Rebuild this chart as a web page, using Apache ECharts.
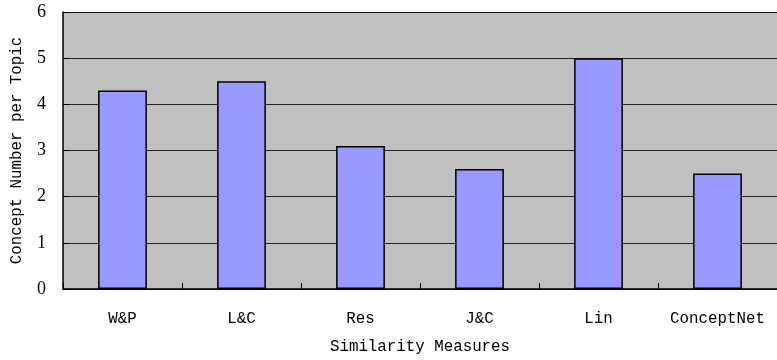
<!DOCTYPE html>
<html><head><meta charset="utf-8">
<script src="https://cdn.jsdelivr.net/npm/echarts@6/dist/echarts.min.js"></script>
<style>html,body{margin:0;padding:0;background:#fff}#c{width:777px;height:360px}</style>
</head><body><div id="c"></div>
<script>
const categories = ["W&P", "L&C", "Res", "J&C", "Lin", "ConceptNet"];
const values = [4.3, 4.5, 3.1, 2.6, 5.0, 2.5];
const yTicks = [0, 1, 2, 3, 4, 5, 6];
const xName = "Similarity Measures";
const yName = "Concept Number per Topic";

const chart = echarts.init(document.getElementById('c'), null, {renderer: 'canvas'});
const mono = "'Liberation Mono', monospace";
const serif = "'Liberation Serif', serif";
chart.setOption({
  animation: false,
  grid: {left: 63, right: 0, top: 12, bottom: 66, show: true, backgroundColor: '#C0C0C0', borderWidth: 0},
  xAxis: {
    type: 'category', data: categories,
    axisLine: {show: true, lineStyle: {color: '#000', width: 1.5}},
    axisTick: {show: true, inside: true, length: 6, interval: 0, alignWithLabel: false, lineStyle: {color: '#000'}},
    axisLabel: {color: '#000', fontFamily: mono, fontSize: 15.8, margin: 22, interval: 0, hideOverlap: false},
    name: xName, nameLocation: 'middle', nameGap: 50,
    nameTextStyle: {color: '#000', fontFamily: mono, fontSize: 15.8}
  },
  yAxis: {
    type: 'value', min: 0, max: 6, interval: 1,
    axisLine: {show: true, lineStyle: {color: '#000', width: 1.5}},
    axisTick: {show: true, inside: true, length: 6, lineStyle: {color: '#000'}},
    axisLabel: {color: '#000', fontFamily: serif, fontSize: 18, margin: 17,
      formatter: v => yTicks.includes(v) ? String(v) : ''},
    splitLine: {show: true, lineStyle: {color: '#222', width: 1}},
    name: yName, nameLocation: 'middle', nameGap: 38, nameRotate: 90,
    nameTextStyle: {color: '#000', fontFamily: mono, fontSize: 15.8}
  },
  series: [{
    type: 'bar', data: values, barWidth: '41%',
    itemStyle: {color: '#9999FF', borderColor: '#000', borderWidth: 1.5}
  }]
});
</script></body></html>
